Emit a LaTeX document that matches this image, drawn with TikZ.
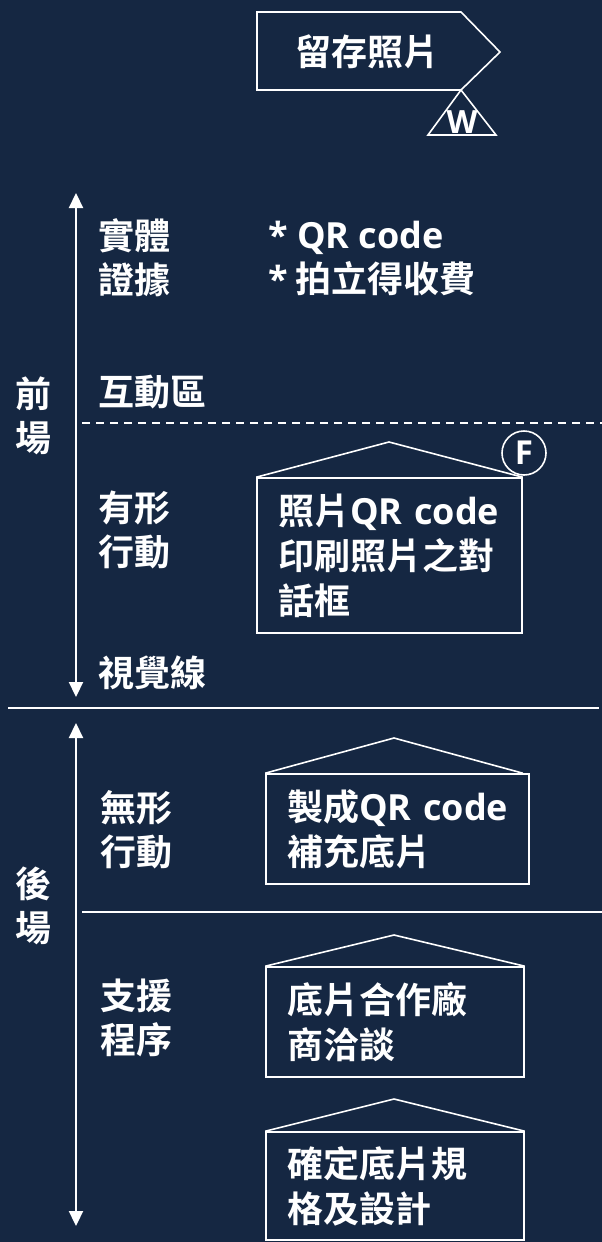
\documentclass[tikz,border=0pt]{standalone}
\usepackage{fontspec}
\setmainfont{Noto Sans CJK TC}[BoldFont={* Bold}]
\newfontfamily\latin{Open Sans}
\usetikzlibrary{arrows.meta}
\definecolor{bgnavy}{RGB}{21,39,66}

\begin{document}
\begin{tikzpicture}[x=1pt, y=-1pt,
    lane/.style={text=white, align=left, anchor=west, inner sep=0pt,
        font=\bfseries\fontsize{36}{44}\selectfont},
    stepbox/.style={draw=white, line width=1.6pt, text=white, align=left,
        inner xsep=21pt, inner ysep=0pt, font=\bfseries\fontsize{36}{45}\selectfont},
    roof/.style={draw=white, line width=1.6pt},
    axis/.style={white, line width=2.2pt,
        {Triangle[length=15pt,width=14pt]}-{Triangle[length=15pt,width=14pt]}}]

    % Background and page size
    \fill[bgnavy] (0,0) rectangle (602,1242);
    \useasboundingbox (0,0) rectangle (602,1242);

    % Touchpoint at the top
    \draw[roof] (257,12) -- (461,12) -- (500,52) -- (461,90) -- (257,90) -- cycle;
    \node[lane, anchor=center] (keep) at (367,52) {留存照片};
    \draw[roof] (461,90) -- (496,135) -- (428,135) -- cycle;
    \node[text=white, inner sep=0pt, font=\latin\bfseries\fontsize{32}{32}\selectfont] (W) at (462,122) {W};

    % Front stage / back stage axes
    \coordinate (front top) at (76,193);
    \coordinate (front end) at (76,697);
    \coordinate (back top) at (76,723);
    \coordinate (back end) at (76,1226);
    \draw[axis] (front end) -- (front top);
    \draw[axis] (back top) -- (back end);

    \node[lane, anchor=center, align=center] (front) at (33,416) {前\\場};
    \node[lane, anchor=center, align=center] (back) at (33,906) {後\\場};

    % Row labels
    \node[lane] (evidence) at (98,258) {實體\\證據};
    \node[lane] (extras) at (268,258) {{\latin * QR code}\\{\latin *} 拍立得收費};
    \node[lane] (zone) at (98,392) {互動區};
    \node[lane] (onstage) at (98,530) {有形\\行動};
    \node[lane] (sight) at (98,673) {視覺線};
    \node[lane] (offstage) at (100,830) {無形\\行動};
    \node[lane] (support) at (100,1018) {支援\\程序};

    % Separating lines
    \coordinate (zone L) at (82,423);
    \coordinate (zone R) at (602,423);
    \coordinate (sight L) at (8,708);
    \coordinate (sight R) at (599,708);
    \coordinate (inner L) at (82,912);
    \coordinate (inner R) at (602,912);
    \draw[white, line width=1.5pt, dash pattern=on 8pt off 6pt] (zone L) -- (zone R);
    \draw[white, line width=2pt] (sight L) -- (sight R);
    \draw[white, line width=2pt] (inner L) -- (inner R);

    % Actions
    \node[stepbox, minimum width=265pt, minimum height=155pt, text width=223pt] (print) at (389.5,555.5)
        {\mbox{照片{\latin QR code}}\\印刷照片之對\\話框};
    \draw[roof] (print.north west) -- (389,442) -- (print.north east);
    \node[circle, draw=white, line width=1.6pt, minimum size=44pt, inner sep=0pt, text=white,
        font=\latin\bfseries\fontsize{33}{33}\selectfont] (F) at (524,453) {F};

    \node[stepbox, minimum width=263pt, minimum height=110pt, text width=221pt] (make) at (397.5,829)
        {\mbox{製成{\latin QR code}}\\補充底片};
    \draw[roof] (make.north west) -- (394,738) -- ([xshift=-7pt]make.north east);

    \node[stepbox, minimum width=258pt, minimum height=110pt, text width=216pt] (deal) at (395,1022)
        {底片合作廠\\商洽談};
    \draw[roof] (deal.north west) -- (394,935) -- (deal.north east);

    \node[stepbox, minimum width=258pt, minimum height=108pt, text width=216pt] (spec) at (395,1186)
        {確定底片規\\格及設計};
    \draw[roof] (spec.north west) -- (394,1099) -- (spec.north east);

\end{tikzpicture}
\end{document}
